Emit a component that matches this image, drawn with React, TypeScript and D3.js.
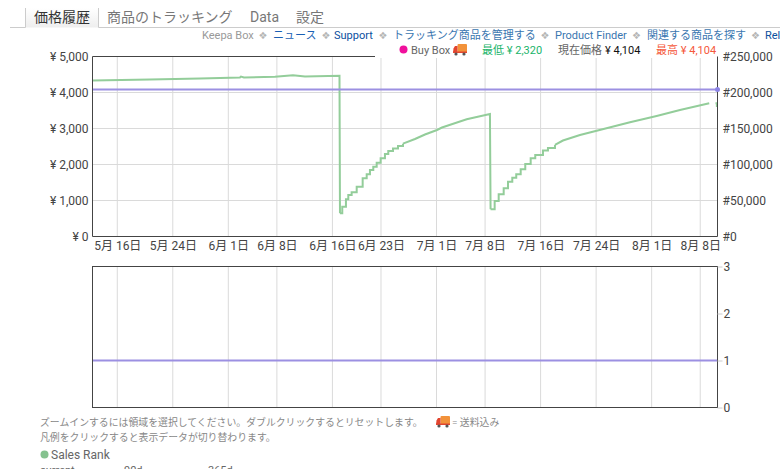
import { useEffect, useRef } from 'react'
import * as d3 from 'd3'

// x values are days counted from May 16
const tickDays = [0, 8, 16, 23, 31, 38, 46, 53, 61, 69, 77, 84]
const tickLabels = ['5月 16日', '5月 24日', '6月 1日', '6月 8日', '6月 16日', '6月 23日', '7月 1日', '7月 8日', '7月 16日', '7月 24日', '8月 1日', '8月 8日']
const dayDomain = [-3.57, 86.49]

const priceTicks = [0, 1000, 2000, 3000, 4000, 5000]
const rankTicks = [0, 50000, 100000, 150000, 200000, 250000]
const offerTicks = [0, 1, 2, 3]

const currentPrice = 4104
const offerCount = 1

// Sales rank, one run per stretch of the line
const plateau = [
  [-3.57, 216700], [4.71, 218100], [11.92, 219500], [17.68, 220850], [17.82, 222200], [18.25, 220850],
  [22.72, 221800], [25.32, 223900], [27.05, 222200], [32.02, 223350], [32.09, 32200],
]
const firstStairs = [
  [32.09, 32200], [32.42, 41400], [32.95, 51700], [33.29, 57600], [33.77, 61400], [34.5, 69200],
  [35.36, 80800], [35.94, 86400], [36.41, 92400], [36.89, 96950], [37.38, 102500], [37.95, 108600],
  [38.57, 114600], [39.05, 118800], [39.73, 122200], [40.45, 125700], [41.17, 128900],
]
const firstClimb = [
  [41.17, 128900], [42.9, 135400], [44.34, 141700], [46.07, 147900], [46.79, 151400], [50.35, 162800],
  [53.7, 170150], [53.79, 37800],
]
const secondStairs = [
  [53.79, 37800], [54.38, 49300], [54.96, 58600], [55.68, 66950], [56.3, 76100], [56.92, 81700],
  [57.49, 86400], [58.13, 93300], [58.79, 100700], [59.57, 108600], [60.23, 113200], [61.34, 119450],
  [62.06, 122900], [63.07, 127100],
]
const secondClimb = [
  [63.07, 127100], [64.22, 133300], [66.67, 141000], [69.08, 146950], [73.88, 158600], [77.72, 167400],
  [81.08, 175700], [85.3, 185000],
]
const tail = [[86.2, 185000], [86.4, 179900]]

const tabs = [
  { label: '価格履歴', x: 34, color: '#333' },
  { label: '商品のトラッキング', x: 107, color: '#777' },
  { label: 'Data', x: 250, color: '#777' },
  { label: '設定', x: 296, color: '#777' },
]
const links = [
  { label: 'Keepa Box', x: 202, color: '#999' },
  { label: 'ニュース', x: 273, color: '#1a5fb4' },
  { label: 'Support', x: 334, color: '#0b4f9e' },
  { label: 'トラッキング商品を管理する', x: 393, color: '#3a76b0' },
  { label: 'Product Finder', x: 555, color: '#3a76b0' },
  { label: '関連する商品を探す', x: 647, color: '#3a76b0' },
  { label: 'Rel', x: 765, color: '#0b4f9e' },
]
const separators = [263, 326, 383, 545, 636.5, 755.5]

const FONT = 'Roboto, "Noto Sans CJK JP", sans-serif'
const GRID = '#dadada'
const AXIS = '#444'
const GREEN = '#93cd9a'
const PURPLE = '#9c90e2'

export default function App() {
  const svgRef = useRef<SVGSVGElement>(null)

  useEffect(() => {
    if (!svgRef.current) return
    const svg = d3.select(svgRef.current)
    svg.selectAll('*').remove()

    const left = 92.5
    const right = 717.5
    const x = d3.scaleLinear().domain(dayDomain).range([left, right])
    const yPrice = d3.scaleLinear().domain([0, 5000]).range([236.5, 56.5])
    const yRank = d3.scaleLinear().domain([0, 250000]).range([236.5, 56.5])
    const yOffers = d3.scaleLinear().domain([0, 3]).range([407.5, 266.5])

    const text = (label: string, tx: number, ty: number, size: number, color: string, anchor = 'start') =>
      svg.append('text')
        .attr('x', tx)
        .attr('y', ty)
        .attr('font-size', size)
        .attr('fill', color)
        .attr('text-anchor', anchor)
        .attr('dominant-baseline', 'central')
        .attr('font-family', FONT)
        .text(label)

    // Small delivery truck icon
    const truck = (tx: number, ty: number) => {
      const g = svg.append('g').attr('transform', `translate(${tx},${ty})`)
      g.append('rect').attr('x', 4.5).attr('y', 0).attr('width', 9.5).attr('height', 8.5).attr('rx', 1).attr('fill', '#f2923a')
      g.append('path').attr('d', 'M0 8.5 L0.5 4.5 L2 2 L4.5 2 L4.5 8.5 Z').attr('fill', '#e2452f')
      g.append('rect').attr('x', 0).attr('y', 7.5).attr('width', 14).attr('height', 1.5).attr('fill', '#e2452f')
      g.append('circle').attr('cx', 3).attr('cy', 10).attr('r', 1.6).attr('fill', '#555')
      g.append('circle').attr('cx', 11).attr('cy', 10).attr('r', 1.6).attr('fill', '#555')
    }

    // Tabs
    const tabFill = svg.append('defs').append('linearGradient')
      .attr('id', 'tabFill').attr('x1', 0).attr('x2', 0).attr('y1', 0).attr('y2', 1)
    tabFill.append('stop').attr('offset', 0).attr('stop-color', '#fff')
    tabFill.append('stop').attr('offset', 1).attr('stop-color', '#eee')
    svg.append('rect').attr('x', 25.5).attr('y', 8).attr('width', 73).attr('height', 19.5).attr('fill', 'url(#tabFill)')
    svg.append('path').attr('d', 'M10 27.5 H25.5 V8 M98.5 8 V27.5 H780').attr('fill', 'none').attr('stroke', '#ccc')
    tabs.forEach(t => text(t.label, t.x, 17, 14, t.color))

    // Link row
    links.forEach(l => text(l.label, l.x, 35, 11, l.color))
    separators.forEach(s => text('❖', s, 35, 10, '#b5b5b5', 'middle').attr('font-family', '"DejaVu Sans"'))

    // Main chart grid
    svg.append('g').selectAll('line').data(tickDays).join('line')
      .attr('x1', d => x(d)).attr('x2', d => x(d))
      .attr('y1', 56.5).attr('y2', 236.5)
      .attr('stroke', GRID)
    svg.append('g').selectAll('line').data(priceTicks.slice(1, -1)).join('line')
      .attr('x1', left).attr('x2', right)
      .attr('y1', d => yPrice(d)).attr('y2', d => yPrice(d))
      .attr('stroke', GRID)

    // Lower chart grid
    svg.append('g').selectAll('line').data(tickDays).join('line')
      .attr('x1', d => x(d)).attr('x2', d => x(d))
      .attr('y1', 266.5).attr('y2', 407.5)
      .attr('stroke', GRID)

    // Sales rank line
    const rankLine = (curve: d3.CurveFactory) => d3.line<number[]>()
      .x(d => x(d[0]))
      .y(d => yRank(d[1]))
      .curve(curve)
    const runs: [number[][], d3.CurveFactory][] = [
      [plateau, d3.curveLinear],
      [firstStairs, d3.curveStepAfter],
      [firstClimb, d3.curveLinear],
      [secondStairs, d3.curveStepAfter],
      [secondClimb, d3.curveLinear],
      [tail, d3.curveStepAfter],
    ]
    runs.forEach(([points, curve]) => {
      svg.append('path')
        .attr('d', rankLine(curve)(points))
        .attr('fill', 'none')
        .attr('stroke', GREEN)
        .attr('stroke-width', 2)
    })

    // Current price and offer count
    const priceY = Math.round(yPrice(currentPrice)) + 0.5
    svg.append('line')
      .attr('x1', left).attr('x2', right)
      .attr('y1', priceY).attr('y2', priceY)
      .attr('stroke', PURPLE).attr('stroke-width', 2)
    svg.append('line')
      .attr('x1', left).attr('x2', right)
      .attr('y1', yOffers(offerCount)).attr('y2', yOffers(offerCount))
      .attr('stroke', PURPLE).attr('stroke-width', 2)

    // Legend strip hides the top of the plot on the right
    svg.append('rect').attr('x', 375).attr('y', 42).attr('width', 342).attr('height', 16).attr('fill', '#fff')

    // Frames
    svg.append('path').attr('d', 'M375 56.5 H92.5 V236.5 H717.5 V56.5').attr('fill', 'none').attr('stroke', AXIS)
    svg.append('rect').attr('x', left).attr('y', 266.5).attr('width', right - left).attr('height', 141)
      .attr('fill', 'none').attr('stroke', AXIS)
    svg.append('circle').attr('cx', right).attr('cy', priceY).attr('r', 2.5).attr('fill', '#8d84e6')

    // Axes
    const styleAxis = (g: d3.Selection<SVGGElement, unknown, null, undefined>) => {
      g.select('.domain').remove()
      g.selectAll('text').attr('font-family', FONT).attr('font-size', 12).attr('fill', '#444')
    }
    svg.append('g').attr('transform', `translate(${left},0)`)
      .call(d3.axisLeft(yPrice).tickValues(priceTicks).tickSize(0).tickPadding(4)
        .tickFormat(d => `¥ ${d3.format(',')(d as number)}`))
      .call(styleAxis)
    svg.append('g').attr('transform', `translate(${right},0)`)
      .call(d3.axisRight(yRank).tickValues(rankTicks).tickSize(0).tickPadding(5)
        .tickFormat(d => `#${d3.format(',')(d as number)}`))
      .call(styleAxis)
    svg.append('g').attr('transform', 'translate(0,236.5)')
      .call(d3.axisBottom(x).tickValues(tickDays).tickSize(0).tickPadding(5)
        .tickFormat((_, i) => tickLabels[i]))
      .call(styleAxis)
    svg.append('g').attr('transform', `translate(${right},0)`)
      .call(d3.axisRight(yOffers).tickValues(offerTicks).tickSize(5).tickPadding(1)
        .tickFormat(d3.format('d')))
      .call(styleAxis)
      .call(g => g.selectAll('line').attr('stroke', '#ccc'))

    // Legend
    svg.append('circle').attr('cx', 403.5).attr('cy', 49.5).attr('r', 4).attr('fill', '#f0109c')
    text('Buy Box', 411, 50, 11, '#666')
    truck(453, 44)
    text('最低 ¥ 2,320', 482, 50, 11, '#1ab46a')
    text('現在価格', 558, 50, 11, '#666')
    text('¥ 4,104', 605, 50, 11, '#111')
    text('最高 ¥ 4,104', 656, 50, 11, '#f5583c')

    // Notes under the charts
    text('ズームインするには領域を選択してください。ダブルクリックするとリセットします。', 40, 422, 9.87, '#888')
    truck(436, 416)
    text('= 送料込み', 452, 422, 9.87, '#888')
    text('凡例をクリックすると表示データが切り替わります。', 40, 437, 9.87, '#888')
    svg.append('circle').attr('cx', 44.5).attr('cy', 454.5).attr('r', 4).attr('fill', '#85c28f')
    text('Sales Rank', 51, 455, 12, '#666')
    text('current', 40, 470, 11, '#666')
    text('90d', 124, 470, 11, '#666')
    text('365d', 208, 470, 11, '#666')
  }, [])

  return (
    <svg
      ref={svgRef}
      width={780}
      height={469}
      style={{ position: 'fixed', left: 0, top: 0, background: '#fff' }}
    />
  )
}
